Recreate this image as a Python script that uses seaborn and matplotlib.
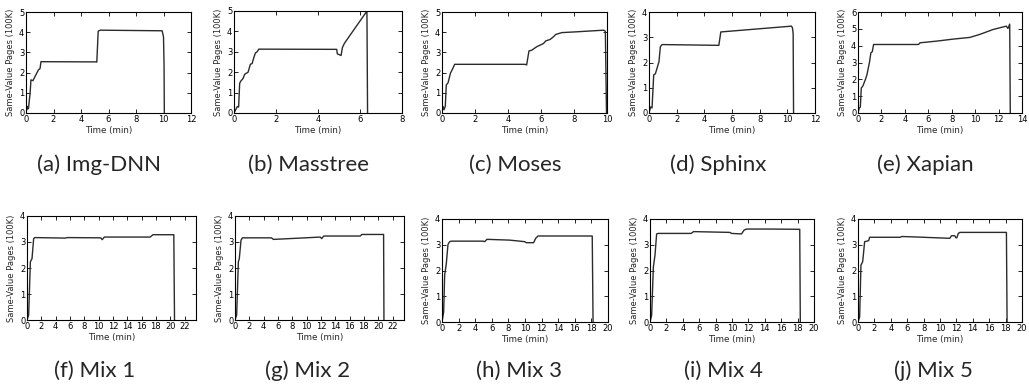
import matplotlib
matplotlib.use("Agg")
import matplotlib.pyplot as plt
import seaborn as sns
import pandas as pd

# ---- data (time in minutes, same-value pages in 100K) ----
imgdnn_t = [0, 0.08, 0.12, 0.18, 0.3, 0.36, 0.5, 0.9, 1.02, 1.09, 5.07, 5.15, 5.25, 5.4, 9.9, 10.0, 10.04, 10.06]
imgdnn_v = [0, 0.33, 0.2, 0.22, 1.0, 1.64, 1.6, 2.13, 2.2, 2.54, 2.53, 2.52, 4.05, 4.1, 4.07, 3.77, 2.4, 0]

masstree_t = [0, 0.08, 0.16, 0.22, 0.27, 0.32, 0.43, 0.51, 0.67, 0.78, 0.86, 0.96, 1.02, 1.1, 1.18,
              4.89, 4.92, 5.1, 5.16, 5.26, 6.3, 6.33, 6.36]
masstree_v = [0, 0.16, 0.32, 0.29, 1.45, 1.56, 1.69, 1.9, 2.0, 2.39, 2.42, 2.77, 2.94, 3.0, 3.13,
              3.12, 2.9, 2.82, 3.2, 3.42, 4.95, 5.0, 0]

moses_t = [0, 0.06, 0.12, 0.2, 0.26, 0.37, 0.51, 0.61, 0.77, 5.03, 5.13, 5.27, 5.44, 5.74, 6.15, 6.29,
           6.55, 6.75, 6.9, 7.26, 8.17, 9.8, 9.9, 9.97]
moses_v = [0, 0.33, 0.16, 0.33, 1.39, 1.5, 1.97, 2.13, 2.41, 2.41, 2.38, 3.07, 3.11, 3.28, 3.44, 3.57,
           3.64, 3.77, 3.89, 3.98, 4.02, 4.1, 4.05, 0]

sphinx_t = [0, 0.12, 0.22, 0.34, 0.46, 0.65, 0.72, 0.82, 0.94, 5.05, 5.19, 10.3, 10.37, 10.42, 10.45]
sphinx_v = [0, 0.24, 0.2, 1.51, 1.55, 1.9, 2.03, 2.62, 2.71, 2.68, 3.21, 3.44, 3.37, 3.15, 0]

xapian_t = [0, 0.11, 0.2, 0.28, 0.42, 0.62, 0.76, 0.99, 1.1, 1.22, 1.33, 5.16, 5.3, 6.71, 8.13, 9.55,
            10.4, 11.53, 12.66, 12.8, 12.95, 13.0]
xapian_v = [0, 0.3, 0.35, 1.48, 1.61, 1.97, 2.26, 3.05, 3.58, 3.64, 4.07, 4.07, 4.17, 4.27, 4.39, 4.49,
            4.67, 4.96, 5.16, 5.02, 5.28, 0]

mix1_t = [0, 0.23, 0.47, 0.7, 0.93, 1.07, 5.36, 5.6, 10.3, 10.5, 10.8, 12.6, 17.2, 17.6, 20.5, 20.6]
mix1_v = [0, 0.19, 2.24, 2.36, 3.13, 3.17, 3.15, 3.17, 3.16, 3.09, 3.19, 3.19, 3.19, 3.28, 3.28, 0]

mix2_t = [0, 0.23, 0.47, 0.6, 0.84, 1.03, 5.1, 5.36, 9.8, 11.9, 12.1, 12.4, 17.5, 17.7, 20.75, 20.8]
mix2_v = [0, 0.19, 2.24, 2.36, 3.07, 3.16, 3.16, 3.1, 3.16, 3.19, 3.13, 3.23, 3.23, 3.29, 3.29, 0]

mix3_t = [0, 0.2, 0.32, 0.52, 0.72, 0.92, 1.12, 4.94, 5.14, 5.42, 8.15, 9.96, 10.16, 11.04, 11.29, 11.57, 18.1, 18.2]
mix3_v = [0, 0.39, 1.82, 2.27, 3.01, 3.12, 3.14, 3.14, 3.12, 3.21, 3.18, 3.12, 3.08, 3.08, 3.25, 3.34, 3.34, 0]

mix4_t = [0, 0.2, 0.41, 0.61, 0.81, 1.01, 5.0, 5.15, 5.3, 9.74, 9.94, 11.16, 11.48, 11.76, 14.4, 18.26, 18.33]
mix4_v = [0, 0.26, 2.14, 2.6, 3.42, 3.44, 3.44, 3.47, 3.51, 3.48, 3.44, 3.42, 3.57, 3.61, 3.61, 3.6, 0]

mix5_t = [0, 0.2, 0.36, 0.57, 0.81, 1.09, 1.3, 1.42, 5.14, 5.34, 6.36, 11.2, 11.4, 11.8, 11.94, 12.05,
          12.23, 12.43, 18.1, 18.18]
mix5_v = [0, 0.19, 2.21, 2.34, 3.12, 3.14, 3.16, 3.29, 3.29, 3.32, 3.31, 3.25, 3.35, 3.35, 3.27, 3.27,
          3.44, 3.48, 3.48, 0]

captions = ["(a) Img-DNN", "(b) Masstree", "(c) Moses", "(d) Sphinx", "(e) Xapian",
            "(f) Mix 1", "(g) Mix 2", "(h) Mix 3", "(i) Mix 4", "(j) Mix 5"]
series = [(imgdnn_t, imgdnn_v), (masstree_t, masstree_v), (moses_t, moses_v), (sphinx_t, sphinx_v),
          (xapian_t, xapian_v), (mix1_t, mix1_v), (mix2_t, mix2_v), (mix3_t, mix3_v),
          (mix4_t, mix4_v), (mix5_t, mix5_v)]
x_max = [12, 8, 10, 12, 14, 23.6, 23.6, 20, 20, 20]
x_ticks = [list(range(0, 13, 2)), list(range(0, 9, 2)), list(range(0, 11, 2)), list(range(0, 13, 2)),
           list(range(0, 15, 2)), list(range(0, 23, 2)), list(range(0, 23, 2)), list(range(0, 21, 2)),
           list(range(0, 21, 2)), list(range(0, 21, 2))]
y_max = [5, 5, 5, 4, 6, 4, 4, 4, 4, 4]
y_label = "Same-Value Pages (100K)"
x_label = "Time (min)"

# ---- layout (pixels) ----
W, H = 1029, 387
boxes = [  # left, right, top, bottom
    (26, 191, 12, 113), (234, 402, 11, 113), (442, 607, 12, 113), (649, 815, 12, 113), (858, 1022, 12, 113),
    (27, 196, 216, 320), (235, 404, 216, 320), (442, 608, 219, 322), (650, 814, 219, 322), (858, 1022, 219, 322),
]
cap_x = [99, 308, 515, 718, 925, 95, 308, 519, 723, 933]
cap_y = [171, 171, 171, 171, 171, 377, 377, 377, 377, 377]

sns.set_style("ticks")
plt.rcParams["font.family"] = ["DejaVu Sans"]

fig = plt.figure(figsize=(W / 100, H / 100), dpi=100)

for i, ((t, v), cap) in enumerate(zip(series, captions)):
    l, r, tp, b = boxes[i]
    ax = fig.add_axes([l / W, 1 - b / H, (r - l) / W, (b - tp) / H])
    df = pd.DataFrame({"t": t, "v": v})
    sns.lineplot(data=df, x="t", y="v", ax=ax, color="#2b2b2b", linewidth=1.0,
                 estimator=None, sort=False)
    ax.set_xlim(0, x_max[i])
    ax.set_ylim(0, y_max[i])
    ax.set_xticks(x_ticks[i])
    ax.set_yticks(list(range(0, y_max[i] + 1)))
    ax.tick_params(direction="in", top=True, right=True, length=3, width=0.6,
                   pad=1.2, labelsize=6, colors="black")
    for s in ax.spines.values():
        s.set_linewidth(0.8)
        s.set_color("black")
    ax.set_xlabel(x_label, fontsize=6.3, labelpad=2)
    ax.set_ylabel(y_label, fontsize=6, labelpad=2.5)
    fig.text(cap_x[i] / W, 1 - cap_y[i] / H, cap, ha="center", va="baseline",
             fontsize=16, family=["Lato", "DejaVu Sans"])

fig.savefig("out.png", dpi=100)
